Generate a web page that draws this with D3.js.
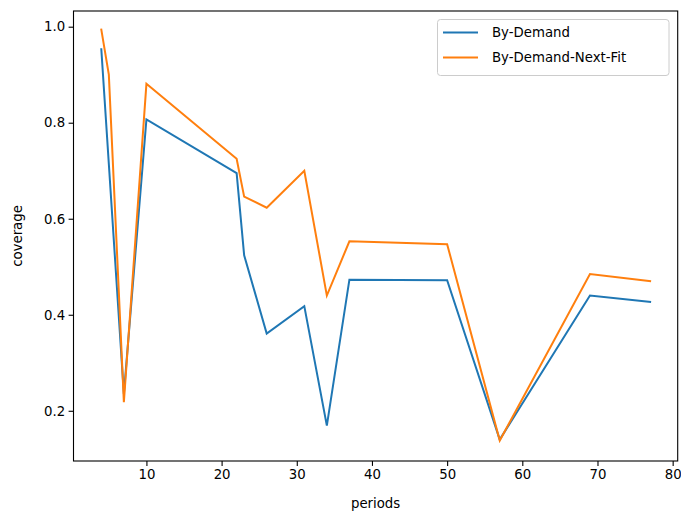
<!DOCTYPE html>
<html>
<head>
<meta charset="utf-8">
<script src="https://cdn.jsdelivr.net/npm/d3@7"></script>
<style>
  body { margin: 0; background: #fff; }
  svg { display: block; font-family: "DejaVu Sans", sans-serif; }
</style>
</head>
<body>
<div id="chart"></div>
<script>
// periods on the x axis
const periods = [4, 5, 7, 10, 22, 23, 26, 31, 34, 37, 50, 57, 69, 77];
// coverage per series
const byDemand = [0.953, 0.714, 0.235, 0.807, 0.695, 0.524, 0.361, 0.418, 0.169, 0.473, 0.472, 0.140, 0.440, 0.427];
const byDemandNextFit = [0.994, 0.900, 0.218, 0.881, 0.725, 0.646, 0.623, 0.700, 0.440, 0.553, 0.547, 0.138, 0.485, 0.470];
const seriesNames = ["By-Demand", "By-Demand-Next-Fit"];
const xTicks = [10, 20, 30, 40, 50, 60, 70, 80];
const yTicks = [0.2, 0.4, 0.6, 0.8, 1.0];

const width = 681, height = 513;
const plot = { left: 73.5, right: 677.7, top: 11, bottom: 461 };

const svg = d3.select('#chart').append('svg')
    .attr('width', width)
    .attr('height', height);

const x = d3.scaleLinear().domain([0.3, 80.67]).range([plot.left, plot.right]);
const y = d3.scaleLinear().domain([0.0954, 1.0327]).range([plot.bottom, plot.top]);

// axes
const xAxis = svg.append('g')
    .attr('transform', `translate(0,${plot.bottom})`)
    .call(d3.axisBottom(x).tickValues(xTicks).tickFormat(d3.format('d')).tickSize(4.9).tickPadding(3.5));
const yAxis = svg.append('g')
    .attr('transform', `translate(${plot.left},0)`)
    .call(d3.axisLeft(y).tickValues(yTicks).tickFormat(d3.format('.1f')).tickSize(4.9).tickPadding(3.5));

[xAxis, yAxis].forEach(g => {
    g.select('.domain').remove();
    g.selectAll('.tick line').attr('stroke', '#000').attr('stroke-width', 1.1);
    g.selectAll('.tick text').attr('fill', '#000').style('font-size', '13.3px').style('font-family', '"DejaVu Sans", sans-serif');
});

// frame
svg.append('rect')
    .attr('x', plot.left).attr('y', plot.top)
    .attr('width', plot.right - plot.left).attr('height', plot.bottom - plot.top)
    .attr('fill', 'none').attr('stroke', '#000').attr('stroke-width', 1.1);

// lines
const colors = ['#1f77b4', '#ff7f0e'];
const series = [byDemand, byDemandNextFit];
const line = d3.line().x(d => x(d[0])).y(d => y(d[1]));

series.forEach((vals, i) => {
    svg.append('path')
        .datum(periods.map((p, j) => [p, vals[j]]))
        .attr('d', line)
        .attr('fill', 'none')
        .attr('stroke', colors[i])
        .attr('stroke-width', 2)
        .attr('stroke-linejoin', 'miter')
        .attr('stroke-linecap', 'square');
});

// labels
svg.append('text')
    .attr('x', (plot.left + plot.right) / 2).attr('y', 508)
    .attr('text-anchor', 'middle')
    .style('font-size', '13.3px')
    .text('periods');
svg.append('text')
    .attr('transform', `translate(22,${(plot.top + plot.bottom) / 2}) rotate(-90)`)
    .attr('text-anchor', 'middle')
    .style('font-size', '13.3px')
    .text('coverage');

// legend
const legend = svg.append('g');
legend.append('rect')
    .attr('x', 437.5).attr('y', 19.5)
    .attr('width', 231.5).attr('height', 56)
    .attr('rx', 3)
    .attr('fill', '#fff').attr('fill-opacity', 0.8)
    .attr('stroke', '#ccc').attr('stroke-width', 1);
seriesNames.forEach((name, i) => {
    const ly = 32.5 + i * 25;
    legend.append('line')
        .attr('x1', 443).attr('x2', 478)
        .attr('y1', ly).attr('y2', ly)
        .attr('stroke', colors[i]).attr('stroke-width', 2);
    legend.append('text')
        .attr('x', 492).attr('y', ly + 4.8)
        .style('font-size', '13.3px')
        .text(name);
});
</script>
</body>
</html>
